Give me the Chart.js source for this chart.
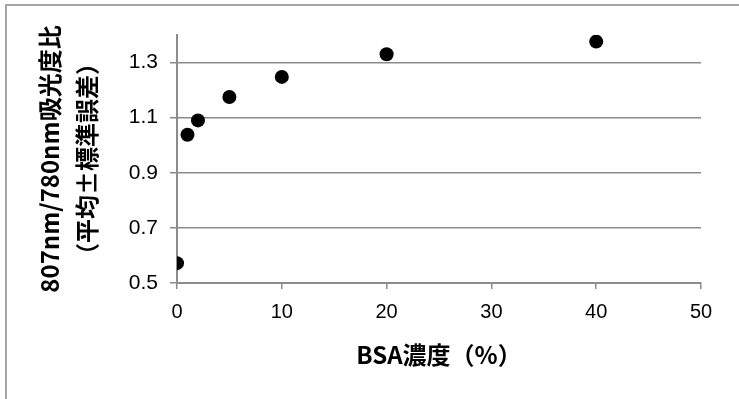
<!DOCTYPE html>
<html>
<head>
<meta charset="utf-8">
<script src="https://cdn.jsdelivr.net/npm/chart.js@4/dist/chart.umd.min.js"></script>
<style>
html,body{margin:0;padding:0;background:#fff;}
#wrap{position:relative;width:739px;height:399px;overflow:hidden;}
#frame{position:absolute;left:5px;top:4px;width:800px;height:500px;border-left:2px solid #a6a6a6;border-top:2px solid #a6a6a6;box-sizing:border-box;}
canvas{position:absolute;left:0;top:0;}
</style>
</head>
<body>
<div id="wrap"><div id="frame"></div><canvas id="c" width="739" height="399"></canvas></div>
<script>
const bsaConcentration = [0, 1, 2, 5, 10, 20, 40];
const absorbanceRatio = [0.572, 1.038, 1.090, 1.175, 1.248, 1.330, 1.376];
const yTicks = [0.5, 0.7, 0.9, 1.1, 1.3];
const xTicks = [0, 10, 20, 30, 40, 50];
const yTitle = ['807nm/780nm吸光度比', '（平均±標準誤差）'];
const xTitle = 'BSA濃度（%）';

const points = bsaConcentration.map((x, i) => ({x: x, y: absorbanceRatio[i]}));
const grey = '#8c8c8c';

new Chart(document.getElementById('c'), {
  type: 'scatter',
  data: {
    datasets: [{
      data: points,
      backgroundColor: '#000',
      borderColor: '#000',
      pointRadius: 7,
      pointHoverRadius: 7,
      borderWidth: 0
    }]
  },
  options: {
    responsive: false,
    animation: false,
    devicePixelRatio: 1,
    layout: {padding: {left: 0, top: 35, right: 38, bottom: 0}},
    plugins: {legend: {display: false}, tooltip: {enabled: false}},
    scales: {
      x: {
        type: 'linear',
        min: 0, max: 50,
        afterBuildTicks: s => { s.ticks = xTicks.map(v => ({value: v})); },
        afterFit: s => { s.height = 116; },
        grid: {display: true, drawOnChartArea: false, drawTicks: true, tickLength: 6, color: grey, lineWidth: 1.5},
        border: {display: true, color: grey, width: 2},
        ticks: {color: '#000', font: {family: 'Liberation Sans', size: 20}, padding: 11, maxRotation: 0},
        title: {display: true, text: xTitle, color: '#000', font: {family: '"Noto Sans CJK JP"', size: 24, weight: 'bold'}, padding: {top: 0, bottom: 30}}
      },
      y: {
        type: 'linear',
        min: 0.5, max: 1.4,
        afterBuildTicks: s => { s.ticks = yTicks.map(v => ({value: v})); },
        afterFit: s => { s.width = 177; },
        grid: {display: true, drawOnChartArea: true, drawTicks: true, tickLength: 7, color: grey, lineWidth: 1.5},
        border: {display: true, color: grey, width: 2},
        ticks: {color: '#000', font: {family: 'Liberation Sans', size: 21}, padding: 12, callback: v => v.toFixed(1)},
        title: {display: true, text: yTitle, color: '#000', font: {family: '"Noto Sans CJK JP"', size: 24, weight: 'bold', lineHeight: 1.55}, padding: {top: 31, bottom: 0}}
      }
    }
  }
});
</script>
</body>
</html>
